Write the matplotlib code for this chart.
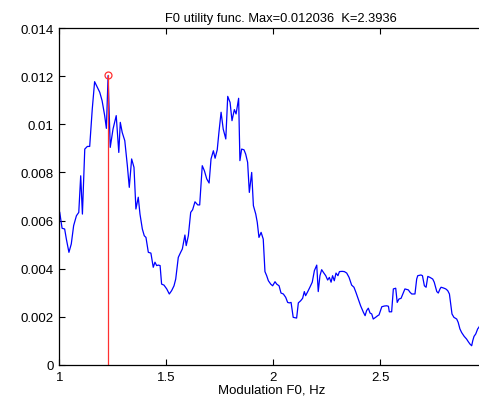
import matplotlib
matplotlib.use('Agg')
import matplotlib.pyplot as plt

plt.rcParams['font.family'] = ['Liberation Sans', 'DejaVu Sans']

# utility curve
f0 = [1.002, 1.013, 1.025, 1.033, 1.045, 1.056, 1.067, 1.080, 1.091, 1.100,
      1.108, 1.119, 1.131, 1.142, 1.154, 1.165, 1.178, 1.189, 1.200, 1.212,
      1.220, 1.228, 1.238, 1.251, 1.266, 1.278, 1.285, 1.294, 1.306, 1.318,
      1.327, 1.338, 1.349, 1.358, 1.369, 1.377, 1.388, 1.397, 1.405, 1.416,
      1.428, 1.439, 1.447, 1.455, 1.463, 1.471, 1.478, 1.489, 1.502, 1.514,
      1.525, 1.536, 1.544, 1.556, 1.567, 1.575, 1.587, 1.593, 1.603, 1.614,
      1.623, 1.634, 1.647, 1.656, 1.668, 1.678, 1.689, 1.700, 1.709, 1.720,
      1.728, 1.738, 1.746, 1.756, 1.766, 1.778, 1.787, 1.798, 1.807, 1.818,
      1.826, 1.838, 1.844, 1.852, 1.863, 1.871, 1.880, 1.888, 1.899, 1.907,
      1.918, 1.925, 1.933, 1.943, 1.953, 1.961, 1.969, 1.977, 1.988, 1.997,
      2.008, 2.016, 2.027, 2.036, 2.047, 2.058, 2.067, 2.075, 2.083, 2.093,
      2.109, 2.117, 2.128, 2.137, 2.145, 2.151, 2.161, 2.171, 2.182, 2.192,
      2.203, 2.210, 2.218, 2.226, 2.234, 2.245, 2.254, 2.262, 2.270, 2.277,
      2.285, 2.293, 2.302, 2.309, 2.322, 2.332, 2.343, 2.354, 2.366, 2.377,
      2.386, 2.397, 2.408, 2.421, 2.429, 2.436, 2.444, 2.452, 2.460, 2.467,
      2.478, 2.488, 2.494, 2.507, 2.519, 2.530, 2.538, 2.542, 2.553, 2.561,
      2.572, 2.579, 2.587, 2.597, 2.607, 2.615, 2.631, 2.639, 2.647, 2.662,
      2.670, 2.675, 2.690, 2.697, 2.706, 2.714, 2.722, 2.732, 2.745, 2.752,
      2.764, 2.771, 2.779, 2.784, 2.795, 2.806, 2.815, 2.823, 2.829, 2.835,
      2.844, 2.857, 2.864, 2.872, 2.880, 2.892, 2.903, 2.911, 2.919, 2.927,
      2.932, 2.938, 2.946, 2.955, 2.961, 2.975]
util = [0.00634, 0.00568, 0.00565, 0.00523, 0.00468, 0.00503, 0.00579, 0.00620, 0.00634, 0.00786,
        0.00627, 0.00897, 0.00908, 0.00908, 0.01063, 0.01177, 0.01153, 0.01133, 0.01098, 0.01036,
        0.00983, 0.01202, 0.00904, 0.00980, 0.01036, 0.00883, 0.01008, 0.00966, 0.00932, 0.00828,
        0.00738, 0.00856, 0.00821, 0.00648, 0.00697, 0.00627, 0.00565, 0.00537, 0.00530, 0.00468,
        0.00465, 0.00406, 0.00427, 0.00413, 0.00415, 0.00413, 0.00336, 0.00332, 0.00316, 0.00295,
        0.00309, 0.00329, 0.00357, 0.00447, 0.00468, 0.00482, 0.00540, 0.00496, 0.00537, 0.00634,
        0.00645, 0.00678, 0.00665, 0.00665, 0.00828, 0.00807, 0.00773, 0.00756, 0.00856, 0.00890,
        0.00859, 0.00894, 0.00967, 0.01050, 0.00980, 0.00939, 0.01116, 0.01091, 0.01015, 0.01061,
        0.01043, 0.01108, 0.00849, 0.00897, 0.00894, 0.00876, 0.00842, 0.00717, 0.00800, 0.00662,
        0.00627, 0.00593, 0.00530, 0.00551, 0.00523, 0.00388, 0.00371, 0.00350, 0.00336, 0.00329,
        0.00346, 0.00336, 0.00329, 0.00299, 0.00295, 0.00281, 0.00260, 0.00258, 0.00260, 0.00198,
        0.00195, 0.00258, 0.00267, 0.00277, 0.00305, 0.00288, 0.00305, 0.00323, 0.00344, 0.00392,
        0.00415, 0.00305, 0.00371, 0.00396, 0.00385, 0.00371, 0.00353, 0.00364, 0.00344, 0.00371,
        0.00350, 0.00382, 0.00371, 0.00388, 0.00389, 0.00388, 0.00382, 0.00364, 0.00332, 0.00323,
        0.00302, 0.00274, 0.00246, 0.00219, 0.00205, 0.00226, 0.00236, 0.00216, 0.00212, 0.00191,
        0.00198, 0.00205, 0.00208, 0.00242, 0.00245, 0.00246, 0.00244, 0.00221, 0.00221, 0.00316,
        0.00319, 0.00260, 0.00274, 0.00277, 0.00299, 0.00316, 0.00312, 0.00302, 0.00295, 0.00295,
        0.00357, 0.00371, 0.00374, 0.00371, 0.00329, 0.00323, 0.00368, 0.00364, 0.00357, 0.00344,
        0.00305, 0.00299, 0.00316, 0.00323, 0.00320, 0.00316, 0.00309, 0.00295, 0.00253, 0.00212,
        0.00198, 0.00191, 0.00177, 0.00150, 0.00135, 0.00119, 0.00108, 0.00097, 0.00087, 0.00080,
        0.00101, 0.00119, 0.00129, 0.00150, 0.00157, 0.00180]

max_f0 = 1.228
max_val = 0.012036
k_val = 2.3936

xticks = [1, 1.5, 2, 2.5]
xticklabels = ['1', '1.5', '2', '2.5']
yticks = [0, 0.002, 0.004, 0.006, 0.008, 0.01, 0.012, 0.014]
yticklabels = ['0', '0.002', '0.004', '0.006', '0.008', '0.01', '0.012', '0.014']

fig = plt.figure(figsize=(4.79, 4.06), dpi=100)
# axes runs past the right edge of the figure (picture is cropped there)
ax = fig.add_axes([59.3 / 479, 40 / 406, 444 / 479, 337 / 406])

ax.plot(f0, util, color='#0000ff', lw=0.9)
ax.plot([max_f0, max_f0], [0, max_val], color='#ff3030', lw=0.9)
ax.plot([max_f0], [max_val], 'o', mfc='none', mec='#ff3030', ms=5, mew=0.9)

ax.set_xlim(1, 1 + 444 / 214.0)
ax.set_ylim(0, 0.014)
ax.set_xticks(xticks)
ax.set_xticklabels(xticklabels)
ax.set_yticks(yticks)
ax.set_yticklabels(yticklabels)
ax.tick_params(direction='in', top=True, right=True, length=4, width=0.8, labelsize=9.5, pad=4)
for s in ax.spines.values():
    s.set_linewidth(0.9)

ax.set_title('F0 utility func. Max=%g  K=%g' % (max_val, k_val), fontsize=9.3, pad=5)
ax.set_xlabel('Modulation F0, Hz', fontsize=9.5)
ax.xaxis.set_label_coords(0.479, -0.056)

fig.savefig('out.png', dpi=100)
